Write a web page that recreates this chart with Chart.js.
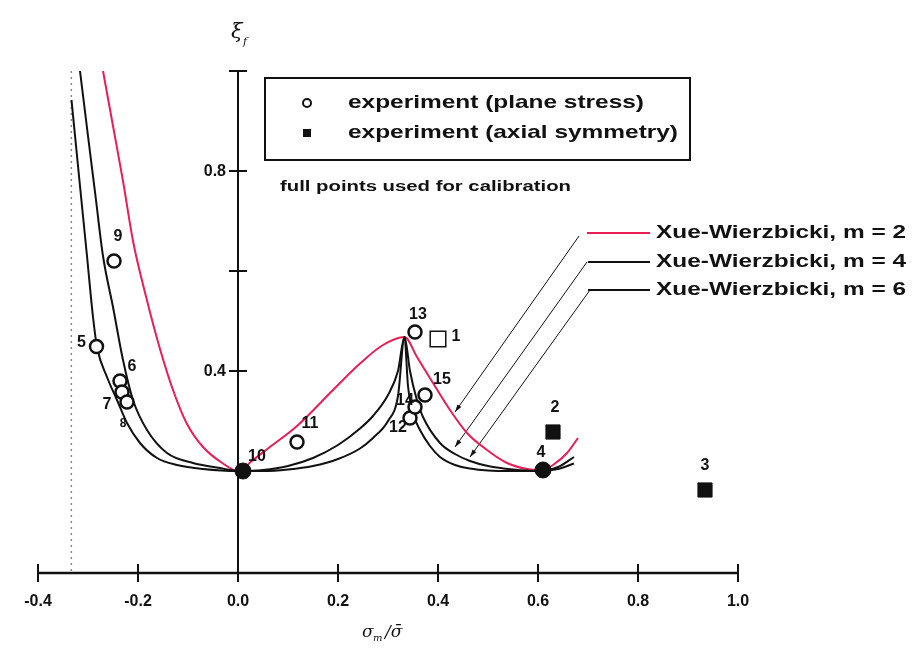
<!DOCTYPE html>
<html>
<head>
<meta charset="utf-8">
<script src="https://cdn.jsdelivr.net/npm/chart.js@4"></script>
<style>
  body { margin: 0; background: #fff; }
  canvas { display: block; }
</style>
</head>
<body>
<canvas id="myChart" width="916" height="648"></canvas>
<script>
// Fracture locus, Xue-Wierzbicki model, three values of m

// axis ticks
const xTicks = [-0.4, -0.2, 0.0, 0.2, 0.4, 0.6, 0.8, 1.0];
const xTickLabels = ['-0.4', '-0.2', '0.0', '0.2', '0.4', '0.6', '0.8', '1.0'];
const yTicks = [0.2, 0.4, 0.6, 0.8, 1.0];
const yTickLabels = ['', '0.4', '', '0.8', ''];
const cutoffX = -1 / 3;

// model curves (triaxiality, fracture strain)
const m2X = [-0.270, -0.250, -0.230, -0.210, -0.183, -0.156, -0.130, -0.103, -0.070, -0.030, 0.000, 0.030, 0.060, 0.118, 0.190, 0.244, 0.290, 0.333, 0.358, 0.390, 0.424, 0.458, 0.498, 0.538, 0.578, 0.610, 0.630, 0.658, 0.680];
const m2Y = [1.000, 0.890, 0.780, 0.660, 0.545, 0.444, 0.362, 0.296, 0.248, 0.215, 0.200, 0.222, 0.245, 0.290, 0.362, 0.415, 0.452, 0.468, 0.428, 0.376, 0.322, 0.276, 0.242, 0.216, 0.204, 0.202, 0.212, 0.236, 0.266];

const m4X = [-0.316, -0.300, -0.285, -0.270, -0.250, -0.230, -0.210, -0.182, -0.142, -0.090, -0.036, 0.000, 0.050, 0.100, 0.150, 0.200, 0.244, 0.270, 0.300, 0.320, 0.333, 0.344, 0.357, 0.370, 0.404, 0.434, 0.464, 0.500, 0.550, 0.600, 0.640, 0.672];
const m4Y = [1.000, 0.870, 0.750, 0.630, 0.528, 0.422, 0.342, 0.282, 0.236, 0.216, 0.206, 0.200, 0.202, 0.210, 0.226, 0.252, 0.285, 0.310, 0.352, 0.400, 0.468, 0.400, 0.345, 0.308, 0.256, 0.234, 0.220, 0.210, 0.203, 0.200, 0.208, 0.228];

const m6X = [-0.333, -0.318, -0.302, -0.290, -0.282, -0.262, -0.242, -0.222, -0.196, -0.162, -0.122, -0.070, 0.000, 0.050, 0.100, 0.150, 0.200, 0.244, 0.270, 0.300, 0.320, 0.333, 0.340, 0.352, 0.364, 0.384, 0.404, 0.434, 0.464, 0.500, 0.550, 0.600, 0.640, 0.672];
const m6Y = [0.942, 0.790, 0.630, 0.508, 0.448, 0.388, 0.342, 0.296, 0.256, 0.226, 0.212, 0.204, 0.200, 0.200, 0.203, 0.210, 0.224, 0.245, 0.266, 0.300, 0.350, 0.468, 0.370, 0.310, 0.282, 0.250, 0.228, 0.212, 0.205, 0.201, 0.200, 0.200, 0.204, 0.215];

// experiments, plane stress (open circles)
const planeIds = ['9', '5', '6', '7', '8', '11', '12', '14', '15', '13'];
const planeX = [-0.248, -0.283, -0.236, -0.232, -0.222, 0.118, 0.344, 0.354, 0.374, 0.354];
const planeY = [0.620, 0.449, 0.380, 0.358, 0.338, 0.258, 0.306, 0.328, 0.352, 0.478];

// experiments, axial symmetry
const calibIds = ['10', '4'];
const calibX = [0.010, 0.610];
const calibY = [0.200, 0.202];
const axialIds = ['2', '3'];
const axialX = [0.630, 0.934];
const axialY = [0.278, 0.162];
const openSqIds = ['1'];
const openSqX = [0.400];
const openSqY = [0.464];

// label offsets in px from the marker
const labelOffsets = {
  '9': [4, -24], '5': [-15, -4], '6': [12, -14], '7': [-15, 13], '8': [-4, 22],
  '11': [13, -18], '12': [-12, 10], '14': [-10, -6], '15': [17, -15], '13': [3, -17],
  '10': [14, -14], '4': [-2, -17], '2': [2, -24], '3': [0, -24], '1': [18, -2]
};

const curveNames = ['Xue-Wierzbicki, m = 2', 'Xue-Wierzbicki, m = 4', 'Xue-Wierzbicki, m = 6'];
// leader lines: legend end -> curve
const leadFromX = [0.682, 0.698, 0.704];
const leadFromY = [0.670, 0.618, 0.562];
const leadToX = [0.434, 0.434, 0.464];
const leadToY = [0.318, 0.248, 0.228];

const RED = '#e81e55';
const INK = '#111';
const FONT = '"Liberation Sans", Arial, sans-serif';

function pts(xs, ys) {
  return xs.map((x, i) => ({ x: x, y: ys[i] }));
}

// draws text stretched to a given width
function fitText(ctx, s, x, y, w, font) {
  ctx.font = font;
  const m = ctx.measureText(s).width;
  ctx.save();
  ctx.translate(x, y);
  ctx.scale(w / m, 1);
  ctx.fillText(s, 0, 0);
  ctx.restore();
}

const decor = {
  id: 'decor',
  beforeDatasetsDraw(chart) {
    const ctx = chart.ctx;
    const xs = chart.scales.x, ys = chart.scales.y;
    const x0 = xs.getPixelForValue(0), y0 = ys.getPixelForValue(0);
    ctx.save();

    // dotted line at -1/3
    ctx.strokeStyle = '#888';
    ctx.lineWidth = 1.5;
    ctx.setLineDash([2, 4]);
    ctx.beginPath();
    ctx.moveTo(xs.getPixelForValue(cutoffX), y0);
    ctx.lineTo(xs.getPixelForValue(cutoffX), ys.getPixelForValue(1.0) - 4);
    ctx.stroke();
    ctx.setLineDash([]);

    // x axis
    ctx.strokeStyle = INK;
    ctx.fillStyle = INK;
    ctx.lineWidth = 2.5;
    ctx.beginPath();
    ctx.moveTo(xs.getPixelForValue(xTicks[0]), y0 + 2);
    ctx.lineTo(xs.getPixelForValue(xTicks[xTicks.length - 1]), y0 + 2);
    ctx.stroke();
    ctx.lineWidth = 2;
    ctx.font = 'bold 16px ' + FONT;
    ctx.textAlign = 'center';
    ctx.textBaseline = 'middle';
    xTicks.forEach((t, i) => {
      const px = xs.getPixelForValue(t);
      ctx.beginPath();
      ctx.moveTo(px, y0 - 7);
      ctx.lineTo(px, y0 + 11);
      ctx.stroke();
      ctx.fillText(xTickLabels[i], px, y0 + 31);
    });

    // y axis
    ctx.beginPath();
    ctx.moveTo(x0, y0 + 2);
    ctx.lineTo(x0, ys.getPixelForValue(yTicks[yTicks.length - 1]));
    ctx.stroke();
    ctx.textAlign = 'right';
    yTicks.forEach((t, i) => {
      const py = ys.getPixelForValue(t);
      ctx.beginPath();
      ctx.moveTo(x0 - 9, py);
      ctx.lineTo(x0 + 9, py);
      ctx.stroke();
      if (yTickLabels[i]) {
        ctx.fillText(yTickLabels[i], x0 - 12, py + 1);
      }
    });

    // axis titles
    ctx.textAlign = 'left';
    ctx.font = 'italic 21px "DejaVu Serif", serif';
    ctx.fillText('\u03be', x0 - 7, 33);
    ctx.font = 'italic 11px "DejaVu Serif", serif';
    ctx.fillText('f', x0 + 5, 42);
    ctx.font = 'italic 17px "DejaVu Serif", serif';
    ctx.fillText('\u03c3', 362, 633);
    ctx.font = 'italic 10px "DejaVu Serif", serif';
    ctx.fillText('m', 373, 638);
    ctx.font = 'italic 17px "DejaVu Serif", serif';
    ctx.fillText('/\u03c3\u0304', 385, 633);

    // leader lines with arrow heads
    ctx.lineWidth = 1;
    leadFromX.forEach((fx, i) => {
      const ax = xs.getPixelForValue(fx), ay = ys.getPixelForValue(leadFromY[i]);
      const bx = xs.getPixelForValue(leadToX[i]), by = ys.getPixelForValue(leadToY[i]);
      ctx.beginPath();
      ctx.moveTo(ax, ay);
      ctx.lineTo(bx, by);
      ctx.stroke();
      const a = Math.atan2(by - ay, bx - ax);
      ctx.beginPath();
      ctx.moveTo(bx, by);
      ctx.lineTo(bx - 8 * Math.cos(a - 0.3), by - 8 * Math.sin(a - 0.3));
      ctx.lineTo(bx - 8 * Math.cos(a + 0.3), by - 8 * Math.sin(a + 0.3));
      ctx.closePath();
      ctx.fill();
    });
    ctx.restore();
  },
  afterDraw(chart) {
    const ctx = chart.ctx;
    ctx.save();
    ctx.fillStyle = INK;
    ctx.strokeStyle = INK;

    // point labels
    ctx.textAlign = 'center';
    ctx.textBaseline = 'middle';
    chart.data.datasets.forEach((ds, di) => {
      if (!ds.ids) return;
      chart.getDatasetMeta(di).data.forEach((el, j) => {
        const id = ds.ids[j];
        const off = labelOffsets[id];
        ctx.font = (id === '8' ? 'bold 12px ' : 'bold 16px ') + FONT;
        ctx.fillText(id, el.x + off[0], el.y + off[1]);
      });
    });

    // marker legend box
    ctx.lineWidth = 2;
    ctx.strokeRect(265, 78, 425, 82);
    ctx.beginPath();
    ctx.arc(307, 103, 4, 0, Math.PI * 2);
    ctx.stroke();
    ctx.fillRect(303, 129, 8, 8);
    ctx.textAlign = 'left';
    fitText(ctx, 'experiment (plane stress)', 348, 103, 296, 'bold 19px ' + FONT);
    fitText(ctx, 'experiment (axial symmetry)', 348, 133, 330, 'bold 19px ' + FONT);
    fitText(ctx, 'full points used for calibration', 280, 187, 291, 'bold 14px ' + FONT);

    // curve legend
    const rows = [233, 262, 290];
    const cols = [RED, INK, INK];
    const starts = [587, 588, 588];
    rows.forEach((ry, i) => {
      ctx.strokeStyle = cols[i];
      ctx.lineWidth = 2;
      ctx.beginPath();
      ctx.moveTo(starts[i], ry);
      ctx.lineTo(650, ry);
      ctx.stroke();
      fitText(ctx, curveNames[i], 656, ry, 250, 'bold 19px ' + FONT);
    });
    ctx.restore();
  }
};

const ctx = document.getElementById('myChart').getContext('2d');
const myChart = new Chart(ctx, {
  type: 'scatter',
  data: {
    datasets: [
      { ids: planeIds, data: pts(planeX, planeY), pointStyle: 'circle', pointRadius: 6.5,
        borderColor: INK, backgroundColor: '#fff', borderWidth: 2.5, order: 0 },
      { ids: calibIds, data: pts(calibX, calibY), pointStyle: 'circle', pointRadius: 8,
        borderColor: INK, backgroundColor: INK, borderWidth: 1, order: 0 },
      { ids: axialIds, data: pts(axialX, axialY), pointStyle: 'rect', pointRadius: 10,
        borderColor: INK, backgroundColor: INK, borderWidth: 1, order: 0 },
      { ids: openSqIds, data: pts(openSqX, openSqY), pointStyle: 'rect', pointRadius: 11,
        borderColor: INK, backgroundColor: '#fff', borderWidth: 1.5, order: 0 },
      { data: pts(m6X, m6Y), showLine: true, pointRadius: 0, borderColor: INK, borderWidth: 2,
        cubicInterpolationMode: 'monotone', order: 1 },
      { data: pts(m4X, m4Y), showLine: true, pointRadius: 0, borderColor: INK, borderWidth: 2,
        cubicInterpolationMode: 'monotone', order: 1 },
      { data: pts(m2X, m2Y), showLine: true, pointRadius: 0, borderColor: RED, borderWidth: 2,
        cubicInterpolationMode: 'monotone', order: 1 }
    ]
  },
  options: {
    responsive: false,
    animation: false,
    clip: false,
    layout: { padding: { left: 38, right: 178, top: 71, bottom: 77 } },
    plugins: { legend: { display: false }, tooltip: { enabled: false } },
    scales: {
      x: { type: 'linear', min: -0.4, max: 1.0, display: false },
      y: { type: 'linear', min: 0, max: 1.0, display: false }
    }
  },
  plugins: [decor]
});
</script>
</body>
</html>
